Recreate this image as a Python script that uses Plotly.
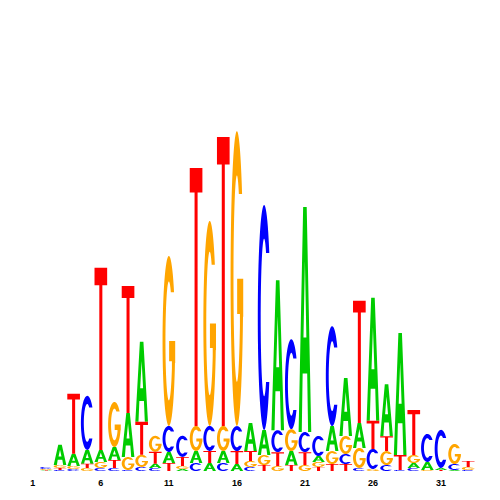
import numpy as np
import plotly.graph_objects as go

positions = list(range(1, 34))
A = [0, 0.003, 0.118, 0.071, 0.082, 0.071, 0.076, 0.259, 0.471, 0.024, 0.065, 0.012, 0.071, 0.047, 0.071, 0.041,
     0.165, 0.147, 0.882, 0.082, 1.324, 0.035, 0.147, 0.341, 0.147, 0.724, 0.306, 0.718, 0.029, 0.047, 0.012, 0.006, 0]
C = [0, 0.012, 0.006, 0.012, 0.318, 0.018, 0.018, 0.006, 0.024, 0.018, 0.153, 0.124, 0.047, 0.147, 0.047, 0.147,
     0.024, 1.324, 0.129, 0.529, 0.118, 0.118, 0.588, 0.059, 0.018, 0.118, 0.035, 0.006, 0.018, 0.165, 0.224, 0.035, 0.006]
G = [0, 0.006, 0.018, 0.018, 0.018, 0.035, 0.265, 0.076, 0.071, 0.094, 1.0, 0.018, 0.147, 1.206, 0.147, 1.735,
     0.035, 0.059, 0.029, 0.129, 0.035, 0.029, 0.076, 0.106, 0.118, 0.012, 0.082, 0, 0.047, 0.006, 0, 0.118, 0.018]
T = [0, 0.003, 0.012, 0.353, 0.024, 1.071, 0.047, 0.747, 0.194, 0.071, 0.047, 0.053, 1.518, 0.071, 1.7, 0.076,
     0.059, 0.035, 0.082, 0.035, 0.076, 0.024, 0.041, 0.041, 0.718, 0.165, 0.088, 0.088, 0.265, 0, 0.006, 0, 0.035]
tick_vals = [1, 6, 11, 16, 21, 26, 31]
tick_text = ["1", "6", "11", "16", "21", "26", "31"]

colors = {"A": "#00CC00", "C": "#0000FF", "G": "#FFA500", "T": "#FF0000"}
heights = {"A": A, "C": C, "G": G, "T": T}
LETTER_W = 0.93


def arc(cx, cy, rx, ry, a0, a1, n=60):
    t = np.radians(np.linspace(a0, a1, n))
    return list(cx + rx * np.cos(t)), list(cy + ry * np.sin(t))


def glyph(letter):
    if letter == "T":
        return [([0, 1, 1, 0.62, 0.62, 0.38, 0.38, 0], [1, 1, 0.905, 0.905, 0, 0, 0.905, 0.905])]
    if letter == "A":
        outer = ([0, 0.25, 0.32, 0.68, 0.75, 1, 0.64, 0.36], [0, 0, 0.26, 0.26, 0, 0, 1, 1])
        hole = ([0.385, 0.5, 0.615], [0.42, 0.76, 0.42])
        return [outer, hole]
    rix, riy = 0.27, 0.35
    yt = 0.5 + 0.5 * np.sin(np.radians(35))
    phi = np.degrees(np.arcsin((yt - 0.5) / riy))
    if letter == "C":
        xo, yo = arc(0.5, 0.5, 0.5, 0.5, 35, 325)
        xi, yi = arc(0.5, 0.5, rix, riy, 360 - phi, phi)
        return [(xo + xi, yo + yi)]
    # G
    xo, yo = arc(0.5, 0.5, 0.5, 0.5, 35, 345)
    ang = np.degrees(np.arccos((0.74 - 0.5) / rix))
    xi, yi = arc(0.5, 0.5, rix, riy, 360 - ang, phi)
    xs = xo + [1.0, 1.0, 0.52, 0.52, 0.74] + xi
    ys = yo + [yo[-1], 0.5, 0.5, 0.38, 0.38] + yi
    return [(xs, ys)]


traces = {b: ([], []) for b in "ACGT"}
for i, p in enumerate(positions):
    col = sorted(((heights[b][i], b) for b in "ACGT"), key=lambda t: t[0])
    y0 = 0.0
    for h, b in col:
        if h <= 0:
            continue
        for ux, uy in glyph(b):
            xs, ys = traces[b]
            xs.extend([p - LETTER_W / 2 + u * LETTER_W for u in ux] + [None])
            ys.extend([y0 + v * h for v in uy] + [None])
        y0 += h

fig = go.Figure()
for b in "ACGT":
    xs, ys = traces[b]
    fig.add_trace(go.Scatter(x=xs, y=ys, mode="none", fill="toself", fillcolor=colors[b],
                             line=dict(width=0, simplify=False), hoverinfo="skip", showlegend=False))

fig.update_layout(
    width=492, height=492,
    margin=dict(l=18, r=25, t=38, b=29),
    paper_bgcolor="white", plot_bgcolor="white",
    xaxis=dict(range=[0.5, 33.5], tickvals=tick_vals, ticktext=tick_text, showgrid=False,
               zeroline=False, showline=False, ticks="outside", ticklen=3, tickcolor="rgba(0,0,0,0)",
               tickfont=dict(family="Liberation Sans", size=9, color="black", weight="bold")),
    yaxis=dict(range=[0, 2.5], visible=False, showgrid=False, zeroline=False),
)
fig.write_html("out.html")
